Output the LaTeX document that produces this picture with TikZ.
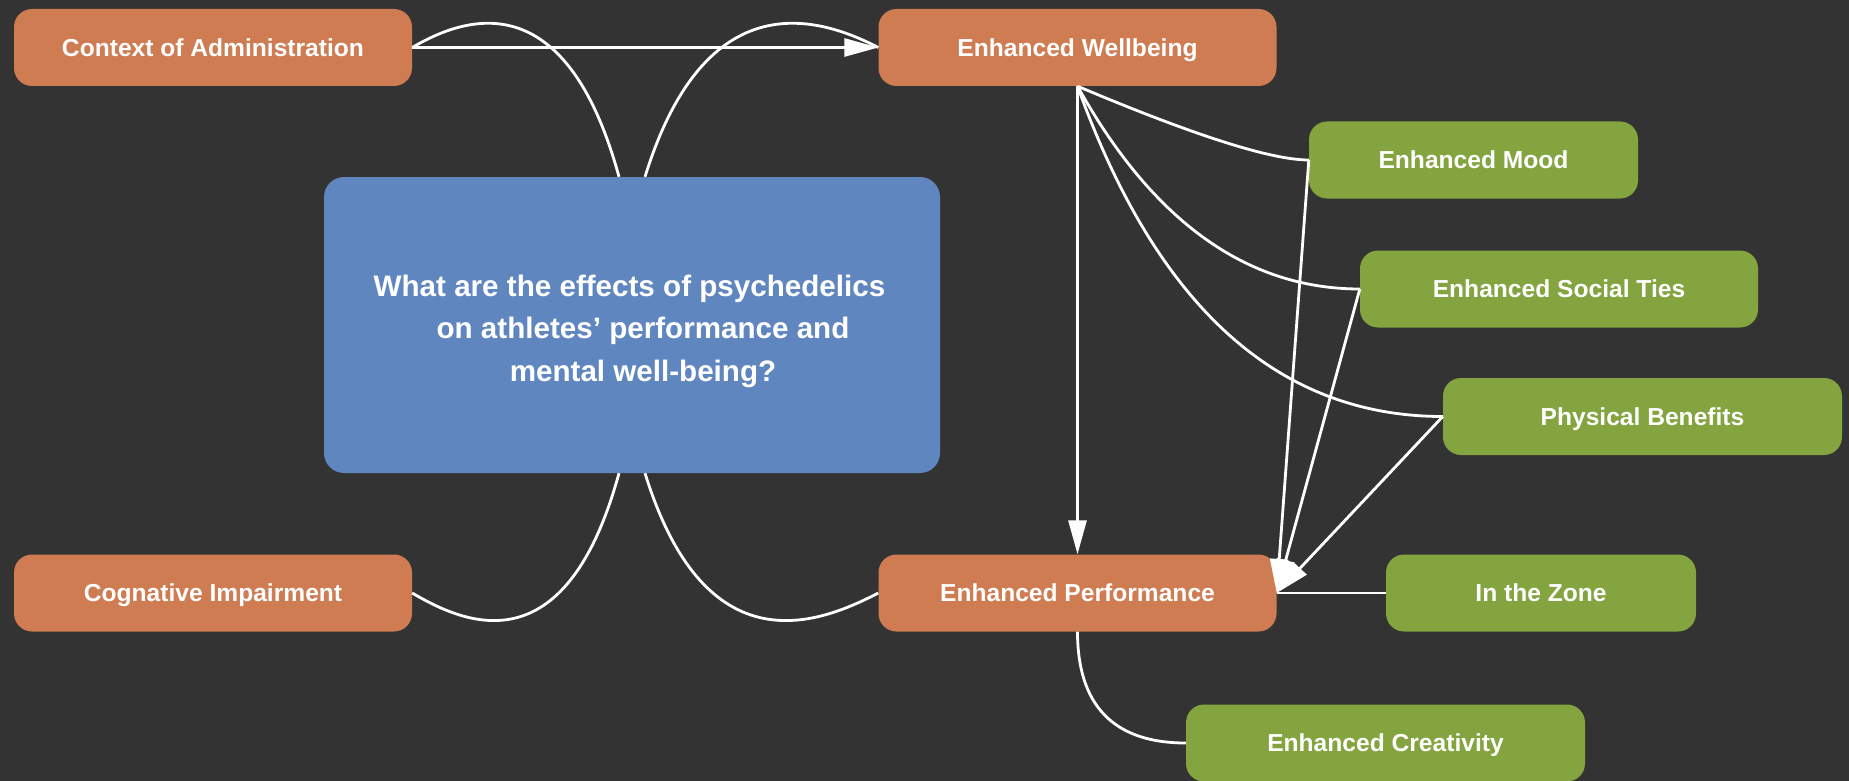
\documentclass[tikz,border=0pt]{standalone}
\usepackage{fontspec}
\setmainfont{Liberation Sans}
\usetikzlibrary{arrows.meta}
\definecolor{bgdark}{HTML}{333333}
\definecolor{boxorange}{HTML}{CF7C52}
\definecolor{boxgreen}{HTML}{83A43E}
\definecolor{boxblue}{HTML}{6086C0}

\begin{document}
\begin{tikzpicture}[x=1pt, y=-1pt,
  box/.style={rounded corners=18pt, minimum height=77pt, inner sep=0pt,
    text=white, font=\bfseries\fontsize{24.6}{29}\selectfont,
    text height=17.6pt, text depth=0pt},
  cause/.style={box, fill=boxorange, minimum width=398pt},
  effect/.style={box, fill=boxgreen},
  question/.style={rounded corners=20pt, fill=boxblue, minimum width=616pt,
    minimum height=296pt, inner sep=0pt, text=white, align=center,
    font=\bfseries\fontsize{29.6}{42.5}\selectfont},
  link/.style={draw=white, line width=2.8pt},
  arrowlink/.style={link, -{Triangle[length=34pt, width=18pt]}},
]
\path[use as bounding box, fill=bgdark] (0,0) rectangle (1849,781);

% central question (the strut lowers the block a little inside the box)
\node[question] (q) at (632,325)
  {\rule{0pt}{34pt}What are the effects of psychedelics\hspace*{5pt}\\
   \hspace*{22pt}on athletes’ performance and\\
   \hspace*{22pt}mental well-being?};

% orange themes
\node[cause] (ctx)  at (213,47.5)   {Context of Administration};
\node[cause] (wb)   at (1077.5,47.5) {Enhanced Wellbeing};
\node[cause] (cog)  at (213,593)    {Cognative Impairment};
\node[cause] (perf) at (1077.5,593) {Enhanced Performance};

% green sub-themes
\node[effect, minimum width=329pt] (mood) at (1473.5,160)   {Enhanced Mood};
\node[effect, minimum width=398pt] (soc)  at (1559,289)     {Enhanced Social Ties};
\node[effect, minimum width=399pt] (phy)  at (1642.5,416.5) {Physical Benefits};
\node[effect, minimum width=310pt] (zone) at (1541,593)     {In the Zone};
\node[effect, minimum width=399pt] (cre)  at (1385.5,743)   {Enhanced Creativity};

% attachment points on the question box
\coordinate (qtl) at ([xshift=-13pt]q.north);
\coordinate (qtr) at ([xshift=13pt]q.north);
\coordinate (qbl) at ([xshift=-13pt]q.south);
\coordinate (qbr) at ([xshift=13pt]q.south);

% arches round the question
\draw[link] (ctx.east) .. controls +(51,-30) and +(-54,-197) .. (qtl);
\draw[link] (qtr) .. controls +(61,-197) and +(-58,-30) .. (wb.west);
\draw[link] (cog.east) .. controls +(51,30) and +(-54,197) .. (qbl);
\draw[link] (qbr) .. controls +(61,197) and +(-58,30) .. (perf.west);

% straight arrows
\draw[arrowlink] (ctx.east) -- (wb.west);
\draw[arrowlink] (wb.south) -- (perf.north);

% wellbeing fans out to its sub-themes
\draw[link] (wb.south) .. controls +(116,49) and +(-38,0) .. (mood.west);
\draw[link] (wb.south) .. controls +(75,135) and +(-113,0) .. (soc.west);
\draw[link] (wb.south) .. controls +(79,220) and +(-165,0) .. (phy.west);

% sub-themes feeding performance
\draw[arrowlink] (mood.west) -- (perf.east);
\draw[arrowlink] (soc.west) -- (perf.east);
\draw[arrowlink] (phy.west) -- (perf.east);
\draw[link] (zone.west) -- (perf.east);
\draw[link] (perf.south) .. controls +(0,74) and +(-72,0) .. (cre.west);
\end{tikzpicture}
\end{document}
